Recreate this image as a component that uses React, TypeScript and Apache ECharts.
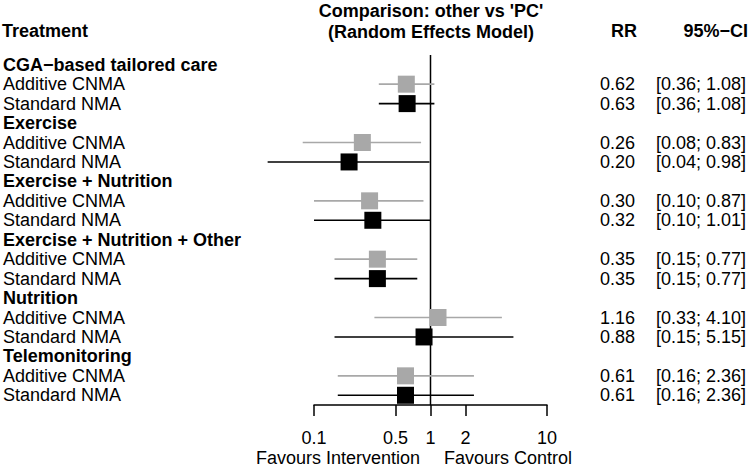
import React, { useEffect, useRef } from "react";
import * as echarts from "echarts";

const groups = [
  "CGA−based tailored care",
  "Exercise",
  "Exercise + Nutrition",
  "Exercise + Nutrition + Other",
  "Nutrition",
  "Telemonitoring",
];
const methods = ["Additive CNMA", "Standard NMA"];

const additiveRR = [0.62, 0.26, 0.3, 0.35, 1.16, 0.61];
const additiveLower = [0.36, 0.08, 0.1, 0.15, 0.33, 0.16];
const additiveUpper = [1.08, 0.83, 0.87, 0.77, 4.1, 2.36];

const standardRR = [0.63, 0.2, 0.32, 0.35, 0.88, 0.61];
const standardLower = [0.36, 0.04, 0.1, 0.15, 0.15, 0.16];
const standardUpper = [1.08, 0.98, 1.01, 0.77, 5.15, 2.36];

const tickValues = [0.1, 0.5, 1, 2, 10];
const referenceValue = 1;
const xMin = 0.1;
const xMax = 10;

const FONT = "'Liberation Sans', Arial, Helvetica, sans-serif";

export default function App() {
  const ref = useRef<HTMLDivElement>(null);

  useEffect(() => {
    if (!ref.current) return;
    const chart = echarts.init(ref.current, undefined, { renderer: "svg" });

    const rowLabels: string[] = [];
    const isHeader: boolean[] = [];
    const rrText: string[] = [];
    const ciText: string[] = [];
    const fmt = (v: number) => v.toFixed(2);
    groups.forEach((g, i) => {
      rowLabels.push(g);
      isHeader.push(true);
      rrText.push("");
      ciText.push("");
      rowLabels.push(methods[0]);
      isHeader.push(false);
      rrText.push(fmt(additiveRR[i]));
      ciText.push(`[${fmt(additiveLower[i])}; ${fmt(additiveUpper[i])}]`);
      rowLabels.push(methods[1]);
      isHeader.push(false);
      rrText.push(fmt(standardRR[i]));
      ciText.push(`[${fmt(standardLower[i])}; ${fmt(standardUpper[i])}]`);
    });
    const rowIdx = rowLabels.map((_, i) => String(i));

    const L = Math.log10;
    const addData = groups.map((_, i) => [L(additiveLower[i]), L(additiveUpper[i]), L(additiveRR[i]), i * 3 + 1]);
    const stdData = groups.map((_, i) => [L(standardLower[i]), L(standardUpper[i]), L(standardRR[i]), i * 3 + 2]);

    const makeRender = (color: string) => (params: any, api: any) => {
      const y = api.value(3);
      const lo = api.coord([api.value(0), y]);
      const hi = api.coord([api.value(1), y]);
      const c = api.coord([api.value(2), y]);
      const s = 17;
      return {
        type: "group",
        children: [
          { type: "line", shape: { x1: lo[0], y1: lo[1], x2: hi[0], y2: hi[1] }, style: { stroke: color, lineWidth: 1.6 } },
          { type: "rect", shape: { x: c[0] - s / 2, y: c[1] - s / 2, width: s, height: s }, style: { fill: color } },
        ],
      };
    };

    const renderRef = (params: any, api: any) => {
      const p = api.coord([api.value(0), 0]);
      const cs = params.coordSys;
      return {
        type: "line",
        shape: { x1: p[0], y1: cs.y, x2: p[0], y2: cs.y + cs.height },
        style: { stroke: "#000", lineWidth: 1.5 },
      };
    };

    const catAxisBase = {
      type: "category" as const,
      data: rowIdx,
      inverse: true,
      axisLine: { show: false },
      axisTick: { show: false },
      splitLine: { show: false },
    };

    chart.setOption({
      animation: false,
      textStyle: { fontFamily: FONT, color: "#000" },
      title: {
        text: "Comparison: other vs 'PC'\n(Random Effects Model)",
        left: 431,
        top: 0,
        padding: 0,
        textAlign: "center",
        textStyle: { fontFamily: FONT, fontSize: 18, fontWeight: "bold", lineHeight: 21, color: "#000" },
      },
      grid: { left: 313, right: 200, top: 55, bottom: 62, containLabel: false },
      xAxis: {
        type: "value",
        min: L(xMin),
        max: L(xMax),
        axisLine: { show: true, onZero: false, lineStyle: { color: "#000", width: 1.5 } },
        axisTick: { show: true, length: 11, customValues: tickValues.map(L), lineStyle: { color: "#000", width: 1.5 } },
        axisLabel: {
          customValues: tickValues.map(L),
          formatter: (v: number) => String(parseFloat(Math.pow(10, v).toPrecision(3))),
          fontSize: 18,
          lineHeight: 14,
          margin: 26,
          color: "#000",
          fontFamily: FONT,
        },
        splitLine: { show: false },
      },
      yAxis: [
        {
          ...catAxisBase,
          position: "left",
          axisLabel: {
            margin: 311,
            align: "left",
            fontSize: 18,
            color: "#000",
            fontFamily: FONT,
            interval: 0,
            formatter: (v: string, i: number) => (isHeader[i] ? `{b|${rowLabels[i]}}` : rowLabels[i]),
            rich: { b: { fontWeight: "bold", fontSize: 18, fontFamily: FONT, color: "#000" } },
          },
        },
        {
          ...catAxisBase,
          position: "right",
          axisLabel: {
            margin: 88,
            align: "right",
            fontSize: 18,
            color: "#000",
            fontFamily: FONT,
            interval: 0,
            formatter: (v: string, i: number) => rrText[i],
          },
        },
        {
          ...catAxisBase,
          position: "right",
          axisLabel: {
            margin: 199,
            align: "right",
            fontSize: 18,
            color: "#000",
            fontFamily: FONT,
            interval: 0,
            formatter: (v: string, i: number) => ciText[i],
          },
        },
      ],
      graphic: [
        { type: "text", x: 2, y: 31, style: { text: "Treatment", font: `bold 18px ${FONT}`, fill: "#000", textAlign: "left", textVerticalAlign: "middle" } },
        { type: "text", x: 637, y: 31, style: { text: "RR", font: `bold 18px ${FONT}`, fill: "#000", textAlign: "right", textVerticalAlign: "middle" } },
        { type: "text", x: 748, y: 31, style: { text: "95%−CI", font: `bold 18px ${FONT}`, fill: "#000", textAlign: "right", textVerticalAlign: "middle" } },
        { type: "text", x: 420, y: 458, style: { text: "Favours Intervention", font: `18px ${FONT}`, lineHeight: 14, fill: "#000", textAlign: "right", textVerticalAlign: "middle" } },
        { type: "text", x: 444, y: 458, style: { text: "Favours Control", font: `18px ${FONT}`, lineHeight: 14, fill: "#000", textAlign: "left", textVerticalAlign: "middle" } },
      ],
      series: [
        {
          type: "custom",
          name: "Reference",
          clip: false,
          renderItem: renderRef,
          encode: { x: 0, y: 1 },
          data: [[L(referenceValue), 0]],
        },
        {
          type: "custom",
          name: "Additive CNMA",
          clip: false,
          renderItem: makeRender("#a8a8a8"),
          encode: { x: [0, 1, 2], y: 3 },
          data: addData,
        },
        {
          type: "custom",
          name: "Standard NMA",
          clip: false,
          renderItem: makeRender("#000000"),
          encode: { x: [0, 1, 2], y: 3 },
          data: stdData,
        },
      ],
    });

    return () => chart.dispose();
  }, []);

  return <div ref={ref} style={{ position: "absolute", left: 0, top: 0, width: 749, height: 467 }} />;
}
